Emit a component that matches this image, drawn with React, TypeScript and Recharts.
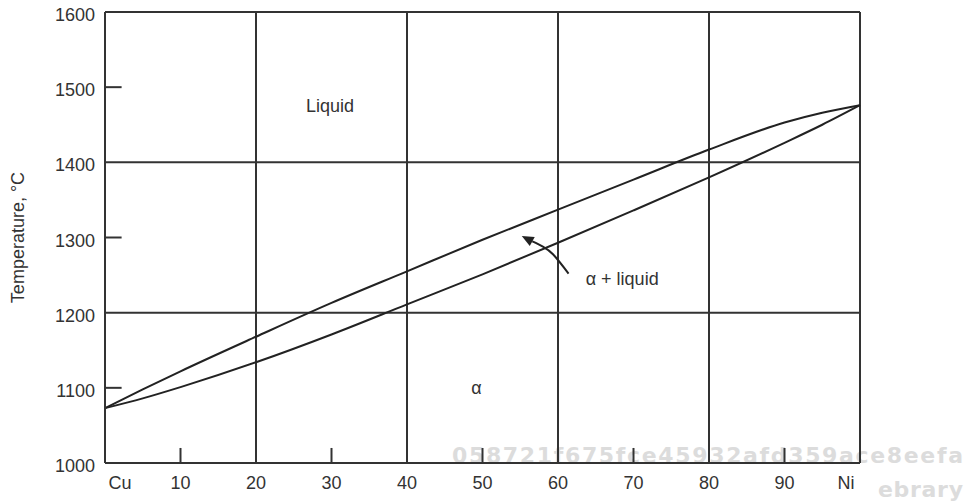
import { LineChart, Line, XAxis, YAxis, ReferenceLine, ReferenceDot } from 'recharts';

// wt% Ni and the two phase boundaries (°C)
const composition = [0, 5, 10, 20, 30, 40, 50, 60, 70, 80, 90, 95, 100];
const liquidus = [1073, 1098, 1122, 1168, 1213, 1255, 1297, 1337, 1377, 1417, 1453, 1466, 1476];
const solidus = [1073, 1086, 1101, 1134, 1171, 1211, 1251, 1293, 1336, 1380, 1426, 1450, 1476];

const xTicks = [0, 10, 20, 30, 40, 50, 60, 70, 80, 90, 100];
const yTicks = [1000, 1100, 1200, 1300, 1400, 1500, 1600];
const xGrid = [20, 40, 60, 80];
const yGrid = [1200, 1400];
const xMinorTicks = [10, 30, 50, 70, 90];
const yMinorTicks = [1100, 1300, 1500];

// pointer arrow for the two-phase region
const arrowX = [61.4, 59.4, 58.0, 56.6];
const arrowY = [1252, 1277, 1288, 1295];
const arrowTip = { x: 55.2, y: 1302 };

const regionLabels = [
  { text: 'Liquid', x: 29.8, y: 1476 },
  { text: 'α + liquid', x: 68.5, y: 1245 },
  { text: 'α', x: 49.2, y: 1100 },
];

const data = composition.map((x, i) => ({ x, liquidus: liquidus[i], solidus: solidus[i] }));
const arrowData = arrowX.map((x, i) => ({ x, y: arrowY[i] }));

const INK = '#333';
const FONT = '"Liberation Sans", Arial, sans-serif';

const XTick = ({ x, y, payload }: any) => {
  const v = payload.value;
  const label = v === 0 ? 'Cu' : v === 100 ? 'Ni' : String(v);
  const shift = v === 0 ? 15 : v === 100 ? -14 : 0;
  return (
    <text x={x + shift} y={y} dy={26} textAnchor="middle" fill={INK} fontSize={18} fontFamily={FONT}>
      {label}
    </text>
  );
};

const YTick = ({ x, y, payload }: any) => (
  <text x={x} y={y} dy={9} textAnchor="end" fill={INK} fontSize={18} fontFamily={FONT}>
    {payload.value}
  </text>
);

const ArrowHead = ({ cx, cy }: any) => (
  <polygon points={`${cx},${cy} ${cx + 13},${cy + 1} ${cx + 8},${cy + 10}`} fill="#222" />
);

export default function App() {
  return (
    <div style={{ position: 'absolute', left: 0, top: 0, width: 976, height: 502 }}>
      <svg width={976} height={502} style={{ position: 'absolute', left: 0, top: 0 }}>
        <text x={963} y={463} textAnchor="end" textLength={511} lengthAdjust="spacing"
          fontFamily='"DejaVu Sans", sans-serif' fontWeight="bold" fontSize={22} fill="#dcdcdc">
          058721f675fce45932afd359ace8eefa
        </text>
        <text x={963} y={497} textAnchor="end" textLength={85} lengthAdjust="spacing"
          fontFamily='"DejaVu Sans", sans-serif' fontWeight="bold" fontSize={22} fill="#dcdcdc">
          ebrary
        </text>
      </svg>
      <div style={{ position: 'absolute', left: 0, top: 0 }}>
        <LineChart width={976} height={502} data={data} margin={{ top: 12, right: 116, bottom: 0, left: 0 }}>
          <XAxis
            dataKey="x"
            type="number"
            domain={[0, 100]}
            ticks={xTicks}
            interval={0}
            height={39}
            tickSize={0}
            tickMargin={0}
            tickLine={false}
            axisLine={{ stroke: INK, strokeWidth: 2 }}
            tick={<XTick />}
          />
          <YAxis
            type="number"
            domain={[1000, 1600]}
            ticks={yTicks}
            interval={0}
            width={105}
            tickSize={0}
            tickMargin={10}
            tickLine={false}
            axisLine={{ stroke: INK, strokeWidth: 2 }}
            tick={<YTick />}
            label={{
              value: 'Temperature, °C',
              angle: -90,
              position: 'center',
              dx: -35,
              fill: INK,
              fontSize: 18,
              fontFamily: FONT,
            }}
          />
          {xGrid.map((v) => (
            <ReferenceLine key={'gx' + v} x={v} stroke={INK} strokeWidth={2} />
          ))}
          {yGrid.map((v) => (
            <ReferenceLine key={'gy' + v} y={v} stroke={INK} strokeWidth={2} />
          ))}
          <ReferenceLine y={1600} stroke={INK} strokeWidth={2} />
          <ReferenceLine x={100} stroke={INK} strokeWidth={2} />
          {xMinorTicks.map((v) => (
            <ReferenceLine key={'tx' + v} segment={[{ x: v, y: 1000 }, { x: v, y: 1020 }]} stroke={INK} strokeWidth={2} />
          ))}
          {yMinorTicks.map((v) => (
            <ReferenceLine key={'ty' + v} segment={[{ x: 0, y: v }, { x: 2.2, y: v }]} stroke={INK} strokeWidth={2} />
          ))}
          <Line type="monotone" dataKey="liquidus" stroke="#222" strokeWidth={2} dot={false} isAnimationActive={false} />
          <Line type="monotone" dataKey="solidus" stroke="#222" strokeWidth={2} dot={false} isAnimationActive={false} />
          <Line data={arrowData} type="natural" dataKey="y" stroke="#222" strokeWidth={2} dot={false} isAnimationActive={false} />
          <ReferenceDot x={arrowTip.x} y={arrowTip.y} r={0} shape={<ArrowHead />} />
          {regionLabels.map((l) => (
            <ReferenceDot
              key={l.text}
              x={l.x}
              y={l.y}
              r={0}
              fill="none"
              stroke="none"
              label={{ value: l.text, position: 'center', fill: INK, fontSize: 18, fontFamily: FONT }}
            />
          ))}
        </LineChart>
      </div>
    </div>
  );
}
